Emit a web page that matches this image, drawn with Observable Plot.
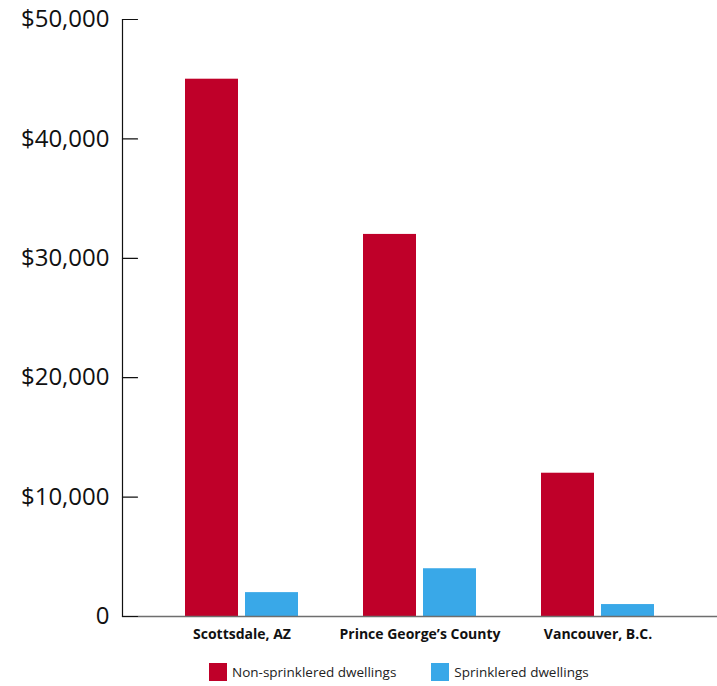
<!DOCTYPE html>
<html>
<head>
<meta charset="utf-8">
<script src="https://cdn.jsdelivr.net/npm/d3@7"></script>
<script src="https://cdn.jsdelivr.net/npm/@observablehq/plot@0.6"></script>
<style>
  body { margin: 0; background: #fff; font-family: "Open Sans", sans-serif; }
  #legend { display: flex; align-items: center; height: 34px; padding-top: 6px; box-sizing: border-box; padding-left: 209px; font-size: 13.5px; color: #222; }
  .item { display: flex; align-items: center; margin-right: 35px; }
  .sw { width: 18px; height: 18px; margin-right: 5px; }
</style>
</head>
<body>
<div id="chart"></div>
<div id="legend"></div>
<script>
const cities = ["Scottsdale, AZ", "Prince George’s County", "Vancouver, B.C."];
const series = ["Non-sprinklered dwellings", "Sprinklered dwellings"];
const colors = ["#bf0029", "#39a8e8"];
const nonSprinklered = [45000, 32000, 12000];
const sprinklered = [2000, 4000, 1000];
const yTicks = [0, 10000, 20000, 30000, 40000, 50000];
const yTickLabels = ["0", "$10,000", "$20,000", "$30,000", "$40,000", "$50,000"];

const data = cities.flatMap((c, i) => [
  {city: c, series: series[0], value: nonSprinklered[i]},
  {city: c, series: series[1], value: sprinklered[i]}
]);

const tickShape = {draw(ctx, l) { ctx.moveTo(0, 0); ctx.lineTo(0, -l); }};

const chart = Plot.plot({
  width: 717,
  height: 652,
  marginLeft: 122,
  marginRight: 0,
  marginTop: 19,
  marginBottom: 36,
  style: {fontFamily: "Open Sans, sans-serif", color: "#111", background: "#fff"},
  x: {domain: cities, paddingInner: 0.363, paddingOuter: 0.35, label: null},
  y: {domain: [0, 50000], label: null},
  marks: [
    Plot.barY(data.filter(d => d.series === series[0]), {x: "city", y: "value", fill: colors[0], insetRight: 60}),
    Plot.barY(data.filter(d => d.series === series[1]), {x: "city", y: "value", fill: colors[1], insetLeft: 60}),
    Plot.ruleY([0], {stroke: "#6e6e6e", strokeWidth: 1.5}),
    Plot.frame({anchor: "left", stroke: "#111", strokeWidth: 1.2}),
    Plot.vector(yTicks, {y: d => d, frameAnchor: "left", length: 15, rotate: 90, anchor: "start", stroke: "#111", strokeWidth: 1.2, shape: tickShape}),
    Plot.axisY({ticks: yTicks, tickSize: 0, tickPadding: 13, fontSize: 24, tickFormat: d => yTickLabels[yTicks.indexOf(d)]}),
    Plot.axisX({tickSize: 0, tickPadding: 13, fontSize: 14, fontWeight: "bold"})
  ]
});
document.getElementById("chart").appendChild(chart);

const legend = document.getElementById("legend");
series.forEach((s, i) => {
  const it = document.createElement("div");
  it.className = "item";
  const sw = document.createElement("div");
  sw.className = "sw";
  sw.style.background = colors[i];
  const t = document.createElement("span");
  t.textContent = s;
  it.appendChild(sw); it.appendChild(t);
  legend.appendChild(it);
});
</script>
</body>
</html>
